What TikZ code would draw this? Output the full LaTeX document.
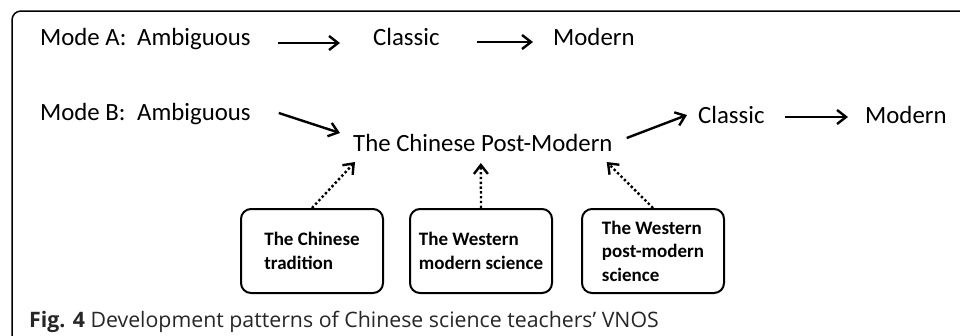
\documentclass[tikz,border=0pt]{standalone}
\usepackage{fontspec}
\setmainfont{Carlito}
\newfontfamily\capfont{Open Sans}
\usetikzlibrary{arrows.meta}
\begin{document}
\begin{tikzpicture}[x=1pt,y=-1pt,
  txt/.style={anchor=base west,inner sep=0pt,font=\fontsize{24.8}{28}\selectfont},
  arr/.style={line width=2.4pt,-{Straight Barb[length=9pt,width=14pt]}},
  dotarr/.style={arr,dash pattern=on 2.4pt off 2.4pt},
  srcbox/.style={draw,line width=2pt,rounded corners=10pt,minimum width=142pt,minimum height=84pt,
    align=left,font=\fontsize{19}{23.5}\selectfont\bfseries}]
\useasboundingbox (0,0) rectangle (960,335);
\draw[line width=1.5pt,rounded corners=9pt](12,340)--(12,11)--(965,11);
\node[txt](modeA) at (40,45){Mode A:};
\node[txt](ambA) at (137,45){Ambiguous};
\node[txt](clsA) at (373,45){Classic};
\node[txt](modA) at (553,45){Modern};
\node[txt](modeB) at (40,120){Mode B:};
\node[txt](ambB) at (137,120){Ambiguous};
\node[txt](post) at (353,151){The Chinese Post-Modern};
\node[txt](clsB) at (698,123){Classic};
\node[txt](modB) at (865,123){Modern};
\node[srcbox](boxch) at (312,251){The Chinese\\tradition};
\node[srcbox](boxwm) at (481,251){The Western\\modern science};
\node[srcbox](boxwp) at (653,251){The Western\\post-modern\\science};
\draw[arr]([shift={(27,-2)}]ambA.base east)--([shift={(-33,-2)}]clsA.base west);
\draw[arr]([shift={(37,-3)}]clsA.base east)--([shift={(-20,-3)}]modA.base west);
\draw[arr]([shift={(28,-7)}]ambB.base east)--([shift={(-13,-18)}]post.base west);
\draw[arr]([shift={(14,-13)}]post.base east)--([shift={(-11,-8)}]clsB.base west);
\draw[arr]([shift={(20,-6)}]clsB.base east)--([shift={(-17,-6)}]modB.base west);
\draw[dotarr](boxch.north)--([shift={(2,11)}]post.base west);
\draw[dotarr](boxwm.north)--([shift={(-2,12)}]post.base);
\draw[dotarr](boxwp.north)--([shift={(-6,11)}]post.base east);
\node[anchor=base west,inner sep=0pt,text=black!85,font=\capfont\fontsize{21.3}{24}\selectfont](cap) at (29,327)
  {\textbf{Fig. 4} Development patterns of Chinese science teachers’ VNOS};
\end{tikzpicture}
\end{document}
